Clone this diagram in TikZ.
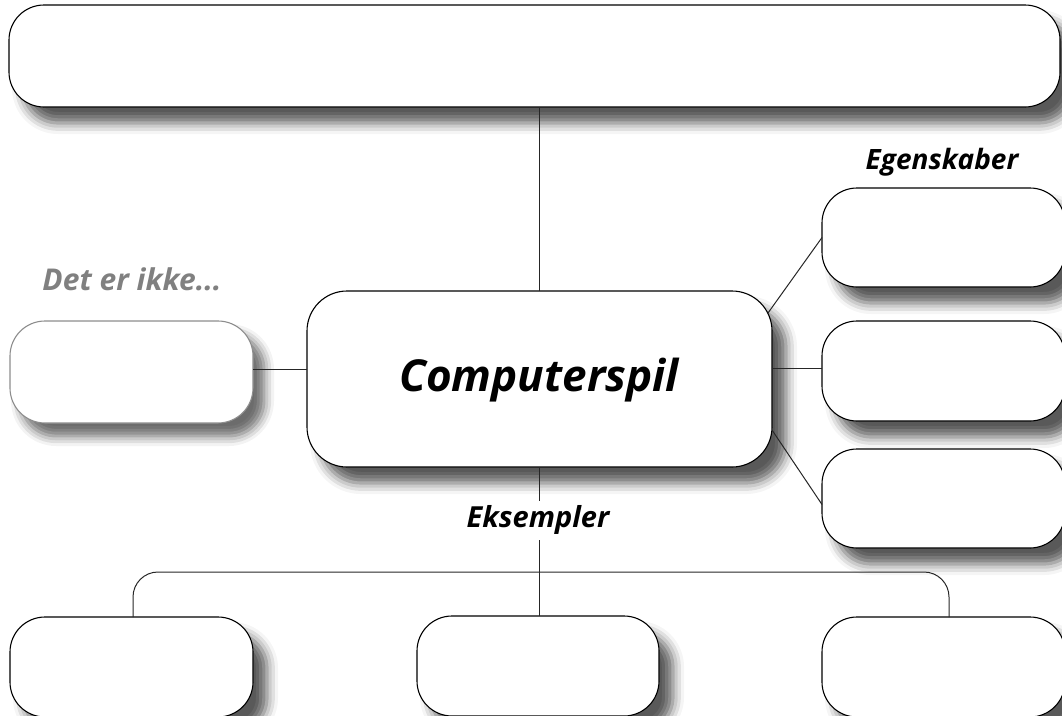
\documentclass[tikz,border=0pt]{standalone}
\usepackage{fontspec}
\setmainfont{Open Sans}
\usetikzlibrary{shadows.blur,calc}
\definecolor{lgrey}{HTML}{808080}
\tikzset{
  box/.style={draw, fill=white, rounded corners=35pt, line width=1.1pt,
    inner sep=0pt, outer sep=0pt, anchor=north west,
    blur shadow={shadow xshift=14pt, shadow yshift=-16pt, shadow blur radius=11pt, shadow opacity=65}},
  greybox/.style={box, draw=lgrey!90,
    blur shadow={shadow xshift=11pt, shadow yshift=-13pt, shadow blur radius=10pt, shadow opacity=35}},
  conn/.style={line width=1pt, black!85},
  lbl/.style={font=\bfseries\itshape, inner sep=2pt}
}
\begin{document}
\begin{tikzpicture}[x=1pt,y=-1pt]
\useasboundingbox (0,0) rectangle (1062,715);
\node[box, minimum width=1051pt, minimum height=102pt] (top) at (9,5) {};
\node[box, rounded corners=40pt, minimum width=465pt, minimum height=176pt] (center) at (307,291) {};
\node[font=\bfseries\itshape\fontsize{44}{50}\selectfont] (ctext) at (539,380) {Computerspil};
\node[greybox, minimum width=243pt, minimum height=102pt] (left) at (10,321) {};
\node[box, minimum width=243pt, minimum height=99pt] (r1) at (822,188) {};
\node[box, minimum width=243pt, minimum height=100pt] (r2) at (822,321) {};
\node[box, minimum width=243pt, minimum height=99pt] (r3) at (822,449) {};
\node[box, minimum width=243pt, minimum height=100pt] (b1) at (10,617) {};
\node[box, minimum width=242pt, minimum height=100pt] (b2) at (417,616) {};
\node[box, minimum width=243pt, minimum height=100pt] (b3) at (822,617) {};

\draw[conn] (center.north) -- (center.north |- top.south);
\draw[conn] ($(left.east)+(0,-3)$) -- ($(left.east -| center.west)+(0,-3)$);
\draw[conn] ($(r2.west)+(0,-3)$) -- ($(r2.west -| center.east)+(0,-3)$);
\draw[conn] ($(center.north east)+(-4,22)$) -- (r1.west);
\draw[conn] ($(center.south east)+(0,-37)$) -- ($(r3.west)+(0,6)$);
\draw[conn] (center.south) -- (center.south |- b2.north);
\draw[conn, rounded corners=25pt] ($(b1.north)+(1.5,0)$) |- ($(b2.north)+(0,-44)$) -| ($(b3.north)+(5.5,0)$);

\node[lbl, font=\bfseries\itshape\fontsize{28}{32}\selectfont] (egen) at (942,162) {Egenskaber};
\node[lbl, font=\bfseries\itshape\fontsize{30}{34}\selectfont, text=lgrey] (ikke) at (132,279) {Det er ikke...};
\node[lbl, font=\bfseries\itshape\fontsize{29}{33}\selectfont, fill=white, inner ysep=5pt] (eks) at (538,520) {Eksempler};
\end{tikzpicture}
\end{document}
